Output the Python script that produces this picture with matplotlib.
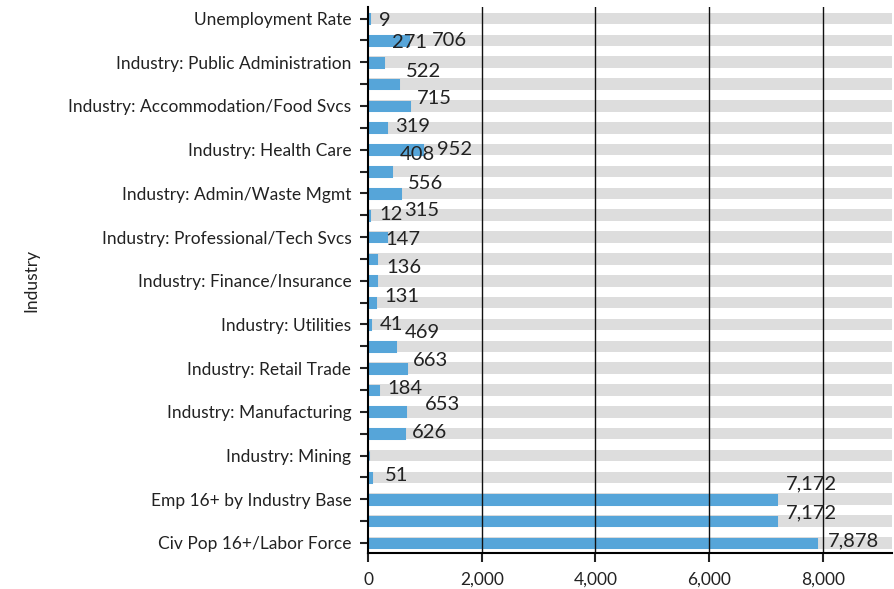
import numpy as np
import matplotlib
matplotlib.use("Agg")
import matplotlib.pyplot as plt

plt.rcParams['font.family'] = ['Lato', 'DejaVu Sans']

# rows from top to bottom
categories = [
    "Unemployment Rate", "Unemployed",
    "Industry: Public Administration", "Industry: Other Services",
    "Industry: Accommodation/Food Svcs", "Industry: Arts/Entertainment/Rec",
    "Industry: Health Care", "Industry: Educational Svcs",
    "Industry: Admin/Waste Mgmt", "Industry: Mgmt of Companies",
    "Industry: Professional/Tech Svcs", "Industry: Real Estate",
    "Industry: Finance/Insurance", "Industry: Information",
    "Industry: Utilities", "Industry: Transportation/Warehouse",
    "Industry: Retail Trade", "Industry: Wholesale Trade",
    "Industry: Manufacturing", "Industry: Construction",
    "Industry: Mining", "Industry: Agriculture/Forestry",
    "Emp 16+ by Industry Base", "Civ Employed 16+",
    "Civ Pop 16+/Labor Force",
]
values = [9, 706, 271, 522, 715, 319, 952, 408, 556, 12, 315, 147, 136,
          131, 41, 469, 663, 184, 653, 626, 1, 51, 7172, 7172, 7878]
hidden_labels = ["Industry: Mining"]

# label nudges (pixels right of bar end, pixels below row centre)
label_dx = [10.5, 23.5, 8.6, 8, 8.3, 9, 14.5, 9, 8.4, 11, 18, 9.3, 11,
            9, 9, 9.6, 7.6, 9.2, 20, 8, 0, 14, 10, 10, 12]
label_dy = [0.7, -1, -21, -14, -9, -3, -2, -18.6, -11, -2.4, -28, -21, -15,
            -8, -1.2, -15, -8.7, -2.6, -8.5, -2.7, 0, -3, -16.4, -10, -4]

blue = '#56a5d9'
grey = '#dddddd'

fig = plt.figure(figsize=(8.94, 5.89), dpi=100)
ax = fig.add_axes([368 / 894, 36 / 589, 524 / 894, 546 / 589])

y = np.arange(len(categories))
xmax = 9215
ax.barh(y, [xmax] * len(y), height=0.53, color=grey, zorder=1)
ax.barh(y, values, height=0.40, color=blue, edgecolor=blue, linewidth=2.2, zorder=2)

for i, v in enumerate(values):
    if categories[i] in hidden_labels:
        continue
    ax.annotate(f"{v:,}", xy=(v, y[i]), xytext=(label_dx[i], -label_dy[i] - 7),
                textcoords='offset pixels', ha='left', va='baseline',
                fontsize=14.5, color='#222222', zorder=4)

ax.set_xlim(0, xmax)
ax.set_ylim(len(y) - 0.54, -0.53)
ax.set_yticks(y)
ax.set_yticklabels([c if i % 2 == 0 else "" for i, c in enumerate(categories)])
ax.set_xticks([0, 2000, 4000, 6000, 8000])
ax.set_xticklabels(["0", "2,000", "4,000", "6,000", "8,000"])
ax.tick_params(axis='y', length=6, width=1.5, pad=6, labelsize=12.5, colors='#222222')
ax.tick_params(axis='x', length=6.5, width=1.5, pad=7, labelsize=12.5, colors='#222222')
ax.set_ylabel("Industry", fontsize=12.5, color='#222222')
ax.yaxis.set_label_coords(-0.628, 0.5)

for x in [2000, 4000, 6000, 8000]:
    ax.axvline(x, color='#111111', linewidth=1.0, zorder=3)

for s in ['top', 'right']:
    ax.spines[s].set_visible(False)
for s in ['left', 'bottom']:
    ax.spines[s].set_linewidth(1.5)
    ax.spines[s].set_zorder(5)

fig.savefig("out.png", dpi=100)
